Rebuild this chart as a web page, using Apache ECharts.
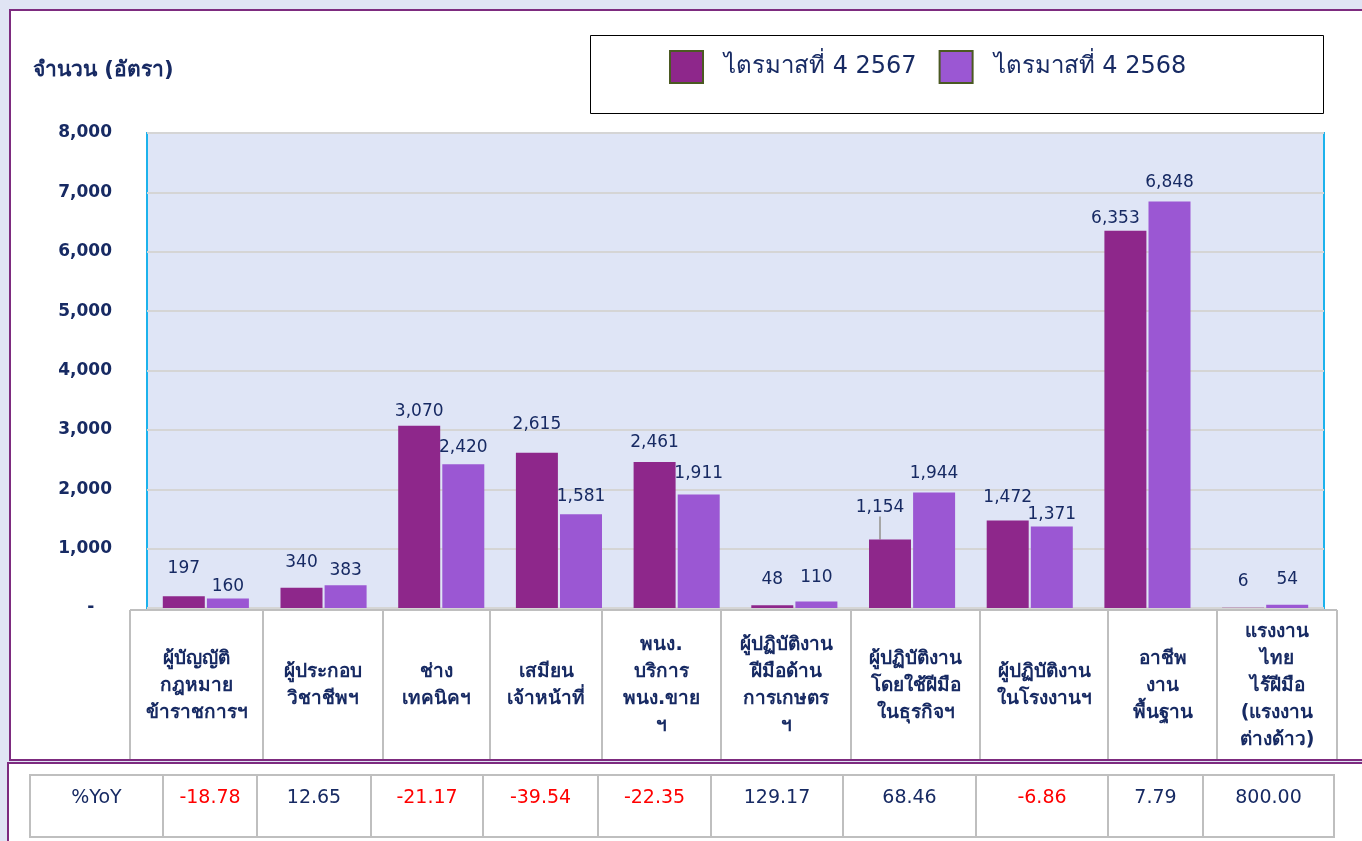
<!DOCTYPE html>
<html lang="th">
<head>
    <meta charset="UTF-8">
    <title>จำนวนอัตรา ไตรมาสที่ 4</title>
    <script src="https://cdn.jsdelivr.net/npm/echarts@6/dist/echarts.min.js"></script>
    <style>
        html, body { margin: 0; padding: 0; background: #e0e4f4; }
        #chart { width: 1362px; height: 841px; }
    </style>
</head>
<body>
    <div id="chart"></div>

    <script>
        // ข้อมูลจากภาพ
        const categories = [
            'ผู้บัญญัติ\nกฎหมาย\nข้าราชการฯ',
            'ผู้ประกอบ\nวิชาชีพฯ',
            'ช่าง\nเทคนิคฯ',
            'เสมียน\nเจ้าหน้าที่',
            'พนง.\nบริการ\nพนง.ขาย\nฯ',
            'ผู้ปฏิบัติงาน\nฝีมือด้าน\nการเกษตร\nฯ',
            'ผู้ปฏิบัติงาน\nโดยใช้ฝีมือ\nในธุรกิจฯ',
            'ผู้ปฏิบัติงาน\nในโรงงานฯ',
            'อาชีพ\nงาน\nพื้นฐาน',
            'แรงงาน\nไทย\nไร้ฝีมือ\n(แรงงาน\nต่างด้าว)'
        ];
        const seriesNames = ['ไตรมาสที่ 4 2567', 'ไตรมาสที่ 4 2568'];
        const q4_2567 = [197, 340, 3070, 2615, 2461, 48, 1154, 1472, 6353, 6];
        const q4_2568 = [160, 383, 2420, 1581, 1911, 110, 1944, 1371, 6848, 54];
        const yoy = ['-18.78', '12.65', '-21.17', '-39.54', '-22.35', '129.17', '68.46', '-6.86', '7.79', '800.00'];
        const yMin = 0, yMax = 8000, yStep = 1000;

        // ระยะยกป้ายตัวเลขเหนือแท่ง (px) ตามภาพต้นฉบับ
        const lift2567 = [29, 27, 16, 30, 21, 27, 33, 25, 14, 28];
        const lift2568 = [13, 16, 18, 19, 22, 25, 20, 14, 20, 27];

        // ตำแหน่งเส้นตาราง
        const catCols = [130, 263, 383, 490, 602, 721, 851, 980, 1108, 1217, 1337];
        const yoyCols = [30, 163, 257, 371, 483, 598, 711, 843, 976, 1108, 1203, 1334];

        const navy = '#172a63';
        const purple = '#7d2b7f';
        const gridGray = '#bfbfbf';
        const font = 'Tahoma, "DejaVu Sans", "Noto Sans", sans-serif';

        const chart = echarts.init(document.getElementById('chart'));

        // กรอบพื้นหลังและตาราง
        const graphics = [
            { type: 'rect', z: -20, shape: { x: 10, y: 10, width: 1360, height: 750 },
              style: { fill: '#fff', stroke: purple, lineWidth: 2 } },
            { type: 'rect', z: -20, shape: { x: 8, y: 763, width: 1362, height: 90 },
              style: { fill: '#fff', stroke: purple, lineWidth: 2 } },
            { type: 'rect', z: -10, shape: { x: 590.5, y: 35.5, width: 733, height: 78 },
              style: { fill: '#fff', stroke: '#000', lineWidth: 1 } },
            { type: 'text', left: 33, top: 60,
              style: { text: 'จำนวน (อัตรา)', fill: navy, font: 'bold 21px ' + font } },
            { type: 'line', shape: { x1: catCols[0], y1: 610, x2: catCols[catCols.length - 1], y2: 610 },
              style: { stroke: gridGray, lineWidth: 2 } }
        ];
        catCols.forEach(x => {
            graphics.push({ type: 'line', shape: { x1: x, y1: 610, x2: x, y2: 759 },
                style: { stroke: gridGray, lineWidth: 2 } });
        });
        categories.forEach((name, i) => {
            graphics.push({ type: 'text', x: (catCols[i] + catCols[i + 1]) / 2, y: 686,
                style: { text: name, fill: navy, font: 'bold 19px ' + font,
                         align: 'center', verticalAlign: 'middle', lineHeight: 27 } });
        });

        graphics.push({ type: 'rect', shape: { x: yoyCols[0], y: 775, width: yoyCols[yoyCols.length - 1] - yoyCols[0], height: 62 },
            style: { fill: '#fff', stroke: gridGray, lineWidth: 2 } });
        yoyCols.slice(1, -1).forEach(x => {
            graphics.push({ type: 'line', shape: { x1: x, y1: 775, x2: x, y2: 837 },
                style: { stroke: gridGray, lineWidth: 2 } });
        });
        const yoyCells = ['%YoY'].concat(yoy);
        yoyCells.forEach((t, i) => {
            graphics.push({ type: 'text', z: 10, x: (yoyCols[i] + yoyCols[i + 1]) / 2, y: 798,
                style: { text: t, fill: t.startsWith('-') ? '#ff0000' : navy, font: '19px ' + font,
                         align: 'center', verticalAlign: 'middle' } });
        });

        const fmt = v => Number(v).toLocaleString('en-US');

        const option = {
            animation: false,
            textStyle: { fontFamily: font },
            legend: {
                data: seriesNames,
                left: 664,
                top: 45,
                itemWidth: 33,
                itemHeight: 32,
                itemGap: 22,
                icon: 'rect',
                itemStyle: { borderColor: '#4b5a22', borderWidth: 2 },
                textStyle: { color: navy, fontSize: 24, fontFamily: font, padding: [0, 0, 6, 16] }
            },
            grid: {
                left: 147,
                right: 38,
                top: 133,
                bottom: 233,
                show: true,
                backgroundColor: '#dfe5f6',
                borderColor: '#1cb2ec',
                borderWidth: 2
            },
            xAxis: {
                type: 'category',
                data: categories,
                axisLine: { show: false },
                axisTick: { show: false },
                axisLabel: { show: false }
            },
            yAxis: {
                type: 'value',
                min: yMin,
                max: yMax,
                interval: yStep,
                axisLine: { show: false },
                axisTick: { show: false },
                splitLine: { lineStyle: { color: '#d5d5d5', width: 2 } },
                axisLabel: {
                    margin: 35,
                    color: navy,
                    fontSize: 17,
                    fontWeight: 'bold',
                    fontFamily: font,
                    formatter: v => v === 0 ? '-   ' : fmt(v)
                }
            },
            series: [
                {
                    name: seriesNames[0],
                    type: 'bar',
                    barWidth: 42,
                    barGap: '5%',
                    itemStyle: { color: '#8e278b' },
                    data: q4_2567.map((v, i) => i === 6
                        ? { value: v, labelLine: { show: true, lineStyle: { color: '#a6a6a6', width: 2 } } }
                        : v)
                },
                {
                    name: seriesNames[1],
                    type: 'bar',
                    barWidth: 42,
                    itemStyle: { color: '#9b57d3' },
                    data: q4_2568
                }
            ].map(s => Object.assign(s, {
                label: {
                    show: true,
                    position: 'top',
                    distance: 0,
                    color: navy,
                    fontSize: 17,
                    fontFamily: font,
                    formatter: p => fmt(p.value)
                }
            })),
            labelLayout: p => {
                const lift = (p.seriesIndex === 0 ? lift2567 : lift2568)[p.dataIndex];
                let dx = 0;
                if (p.seriesIndex === 0 && (p.dataIndex === 6 || p.dataIndex === 8)) dx = -10;
                return { dx: dx, dy: -(lift - 10) };
            },
            graphic: graphics
        };

        chart.setOption(option);
    </script>
</body>
</html>
